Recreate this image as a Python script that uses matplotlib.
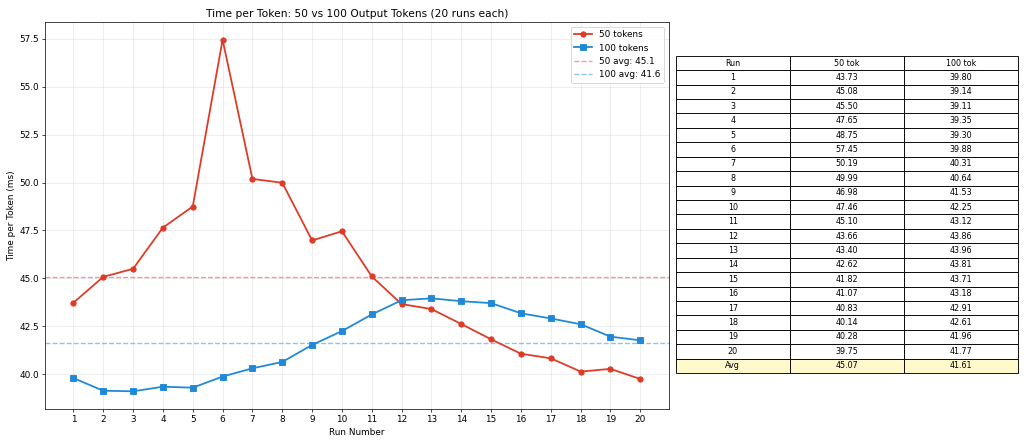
import matplotlib
matplotlib.use("Agg")
import matplotlib.pyplot as plt
import numpy as np

runs = list(range(1, 21))
tok50 = [43.73, 45.08, 45.50, 47.65, 48.75, 57.45, 50.19, 49.99, 46.98, 47.46,
         45.10, 43.66, 43.40, 42.62, 41.82, 41.07, 40.83, 40.14, 40.28, 39.75]
tok100 = [39.80, 39.14, 39.11, 39.35, 39.30, 39.88, 40.31, 40.64, 41.53, 42.25,
          43.12, 43.86, 43.96, 43.81, 43.71, 43.18, 42.91, 42.61, 41.96, 41.77]
avg50 = 45.07
avg100 = 41.61

red = '#e03a26'
blue = '#1f88d8'

fig = plt.figure(figsize=(16, 443 / 64), dpi=64)
ax = fig.add_axes([0.044, 0.077, 0.609, 0.873])

ax.plot(runs, tok50, '-o', color=red, lw=2, ms=6, label='50 tokens')
ax.plot(runs, tok100, '-s', color=blue, lw=2, ms=6, label='100 tokens')
ax.axhline(avg50, color=red, ls='--', alpha=0.5, lw=1.5, label=f'50 avg: {avg50:.1f}')
ax.axhline(avg100, color=blue, ls='--', alpha=0.5, lw=1.5, label=f'100 avg: {avg100:.1f}')
ax.set_xticks(runs)
ax.grid(True, alpha=0.3)
ax.set_xlabel('Run Number')
ax.set_ylabel('Time per Token (ms)')
ax.set_title('Time per Token: 50 vs 100 Output Tokens (20 runs each)')
ax.legend(loc='upper right')

tax = fig.add_axes([0.66, 0.158, 0.334, 0.716])
tax.axis('off')
cell_text = [[str(r), f'{a:.2f}', f'{b:.2f}'] for r, a, b in zip(runs, tok50, tok100)]
cell_text.append(['Avg', f'{avg50:.2f}', f'{avg100:.2f}'])
tbl = tax.table(cellText=cell_text, colLabels=['Run', '50 tok', '100 tok'],
                cellLoc='center', loc='center', bbox=[0, 0, 1, 1])
tbl.auto_set_font_size(False)
tbl.set_fontsize(9)
for j in range(3):
    tbl[(len(cell_text), j)].set_facecolor('#fff9cc')

fig.savefig('out.png', dpi=64)
